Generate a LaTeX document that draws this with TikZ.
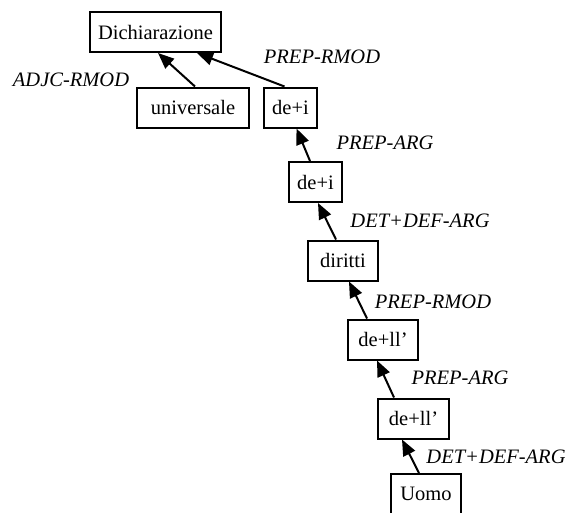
\documentclass[tikz,border=0pt]{standalone}
\usepackage{fontspec}
\setmainfont{Liberation Serif}
\usetikzlibrary{arrows.meta}

\begin{document}
\begin{tikzpicture}[
  x=1pt, y=-1pt,
  word/.style={draw, line width=2pt, minimum height=40pt, inner xsep=4pt,
    font=\fontsize{20.5}{24}\selectfont},
  rel/.style={font=\fontsize{20.5}{24}\selectfont\itshape},
  dep/.style={line width=2pt, -{Triangle[length=16pt,width=13pt]}},
]
  \useasboundingbox (0,0) rectangle (565,512);

  % words of the sentence
  \node[word, minimum width=131pt] (dich) at (155.5,32) {Dichiarazione};
  \node[word, minimum width=112pt] (univ) at (193,107.5) {universale};
  \node[word, minimum width=53pt] (dei1) at (290.5,107.5) {de+i};
  \node[word, minimum width=53pt] (dei2) at (315.5,182) {de+i};
  \node[word, minimum width=70pt] (dir) at (343,260.5) {diritti};
  \node[word, minimum width=70pt] (dell1) at (383,339.5) {de+ll’};
  \node[word, minimum width=71pt] (dell2) at (413.5,418.5) {de+ll’};
  \node[word, minimum width=70pt] (uomo) at (426,494) {Uomo};

  % relation labels
  \node[rel] (adjc) at (71,80) {ADJC-RMOD};
  \node[rel] (prmod1) at (322,57) {PREP-RMOD};
  \node[rel] (parg1) at (385,143) {PREP-ARG};
  \node[rel] (ddarg1) at (420,221) {DET+DEF-ARG};
  \node[rel] (prmod2) at (433,302) {PREP-RMOD};
  \node[rel] (parg2) at (460,378) {PREP-ARG};
  \node[rel] (ddarg2) at (496,457) {DET+DEF-ARG};

  % dependencies
  \draw[dep] ([xshift=2pt]univ.north) -- ([xshift=2.5pt]dich.south);
  \draw[dep] ([xshift=-6pt]dei1.north) -- ([xshift=41.5pt]dich.south);
  \draw[dep] ([xshift=-5.5pt]dei2.north) -- ([xshift=6pt]dei1.south);
  \draw[dep] ([xshift=-7pt]dir.north) -- ([xshift=2.5pt]dei2.south);
  \draw[dep] ([xshift=-16pt]dell1.north) -- ([xshift=6pt]dir.south);
  \draw[dep] ([xshift=-19.5pt]dell2.north) -- ([xshift=-6pt]dell1.south);
  \draw[dep] ([xshift=-7pt]uomo.north) -- ([xshift=-11.5pt]dell2.south);
\end{tikzpicture}
\end{document}
